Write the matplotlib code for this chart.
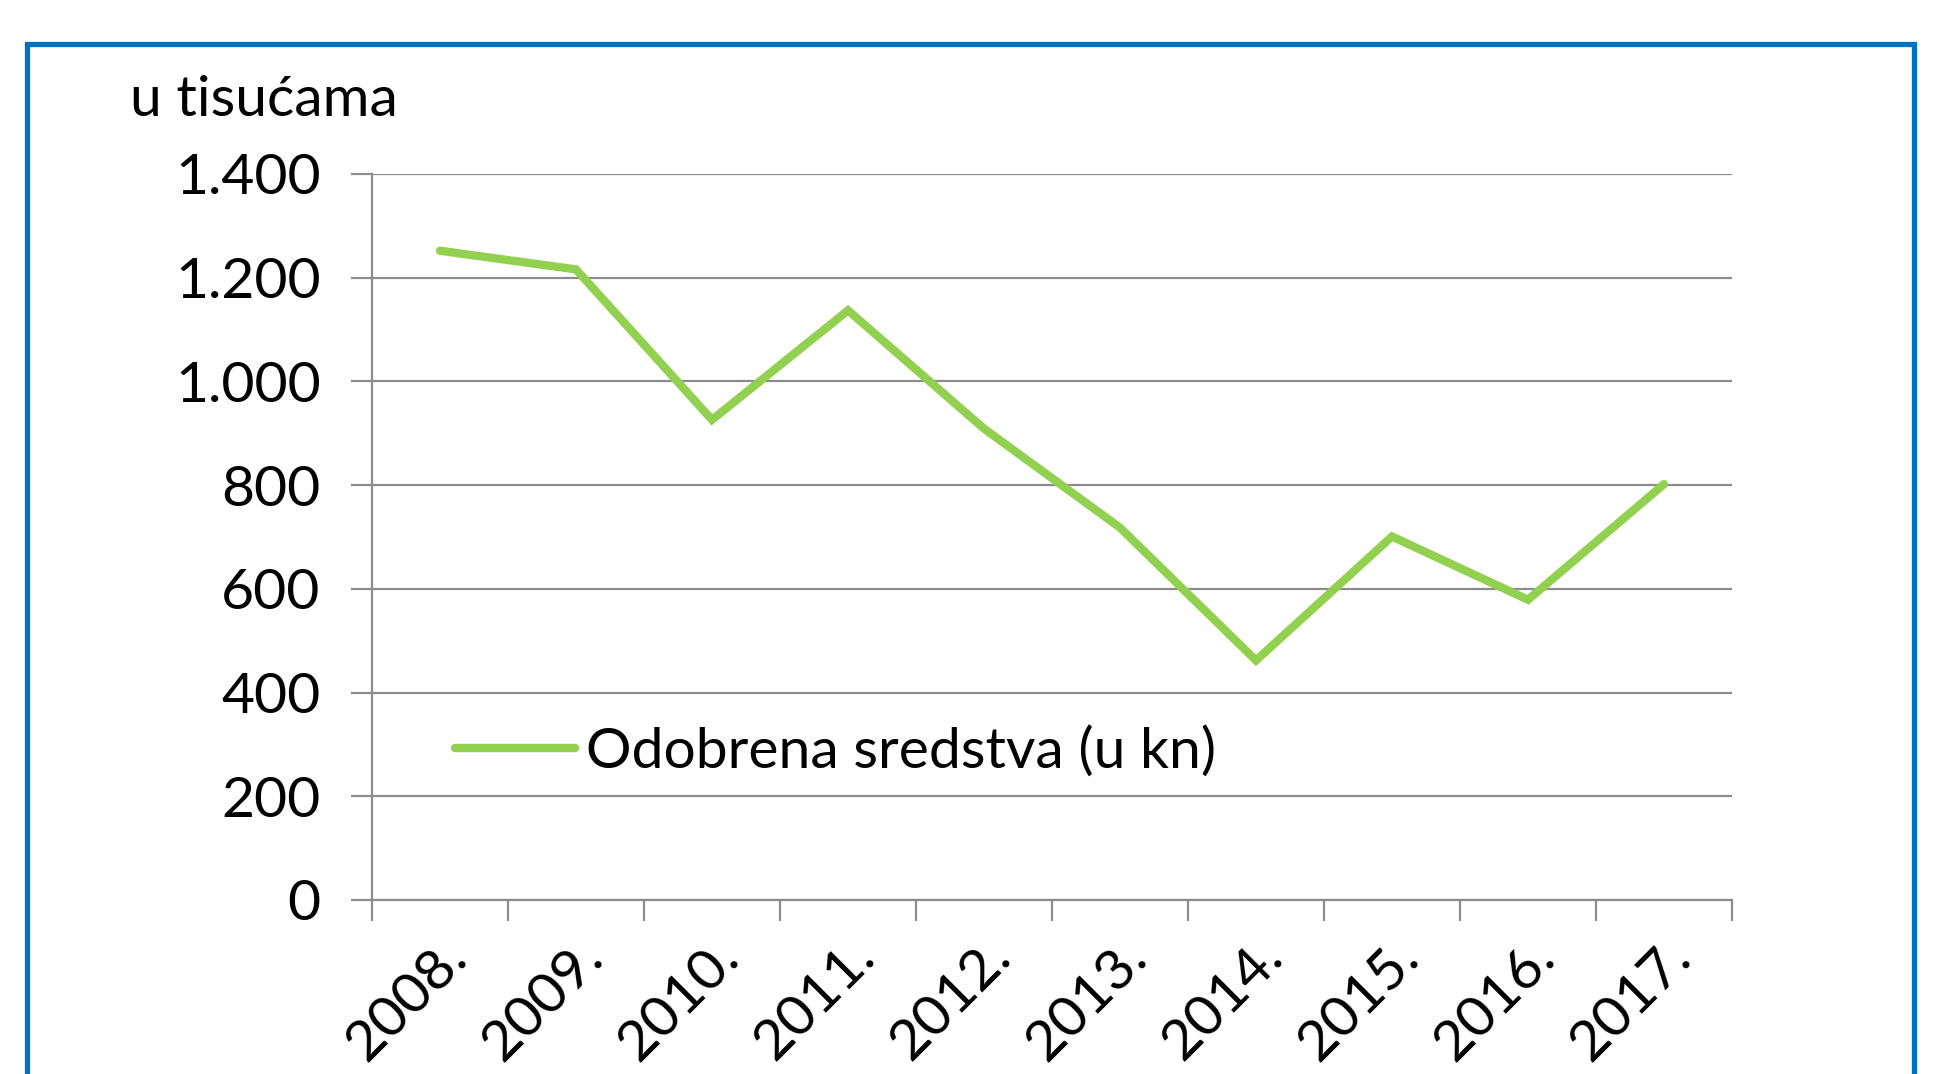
import matplotlib
matplotlib.use("Agg")
import matplotlib.pyplot as plt
from matplotlib.lines import Line2D
from matplotlib.ticker import FuncFormatter, FixedLocator

years = ["2008.", "2009.", "2010.", "2011.", "2012.", "2013.", "2014.", "2015.", "2016.", "2017."]
values = [1252, 1216, 926, 1137, 909, 718, 462, 701, 579, 802]
yticks = [0, 200, 400, 600, 800, 1000, 1200, 1400]
series_label = "Odobrena sredstva (u kn)"
unit_label = "u tisućama"

plt.rcParams['font.family'] = ['Lato', 'DejaVu Sans']
FS = 41
GREEN = "#92D050"
GRID = "#8c8c8c"
BLUE = "#0070C0"

W, H = 1946, 1074
fig = plt.figure(figsize=(W / 100, H / 100), dpi=100)
ax = fig.add_axes([372 / W, 1 - 900 / H, (1732 - 372) / W, (900 - 174) / H])

x = list(range(len(years)))
ax.plot(x, values, color=GREEN, lw=6, solid_joinstyle='miter', solid_capstyle='round',
        label=series_label, zorder=3)

ax.set_xlim(-0.5, len(years) - 0.5)
ax.set_ylim(0, 1400)
ax.set_yticks(yticks)
ax.yaxis.set_major_formatter(FuncFormatter(lambda v, p: f"{int(v):,}".replace(",", ".")))
ax.yaxis.grid(True, color=GRID, lw=1.6)
ax.set_axisbelow(True)

ax.xaxis.set_major_locator(FixedLocator([i - 0.5 for i in range(len(years) + 1)]))
ax.xaxis.set_major_formatter(FuncFormatter(lambda v, p: ""))
ax.xaxis.set_minor_locator(FixedLocator(x))
ax.set_xticklabels(years, minor=True)
ax.tick_params(axis='x', which='minor', length=0, labelsize=FS, pad=22)
ax.tick_params(axis='x', which='major', length=15, width=1.6, color=GRID)
ax.tick_params(axis='y', length=15, width=1.6, color=GRID, labelsize=FS, pad=22)
for lab in ax.get_xticklabels(minor=True):
    lab.set_rotation(45)
    lab.set_ha('right')
    lab.set_va('top')
    lab.set_rotation_mode('anchor')

for s in ['top', 'right']:
    ax.spines[s].set_visible(False)
for s in ['left', 'bottom']:
    ax.spines[s].set_color(GRID)
    ax.spines[s].set_linewidth(1.6)

leg = ax.legend(loc='center left', bbox_to_anchor=((455 - 372) / (1732 - 372), 1 - (752 - 174) / (900 - 174)),
                frameon=False, fontsize=FS, handlelength=2.1, handletextpad=0.2,
                borderpad=0, borderaxespad=0)
for h in leg.get_lines():
    h.set_linewidth(6)
    h.set_solid_capstyle('round')

fig.text(130 / W, 1 - 101 / H, unit_label, fontsize=FS, ha='left', va='center')

# blue frame
bl, bt, br = 27 / W, 1 - 44 / H, 1914 / W
fig.add_artist(Line2D([bl, bl, br, br], [0, bt, bt, 0], transform=fig.transFigure,
                      color=BLUE, lw=3.8, solid_joinstyle='miter'))

fig.savefig("out.png", dpi=100, facecolor='white')
